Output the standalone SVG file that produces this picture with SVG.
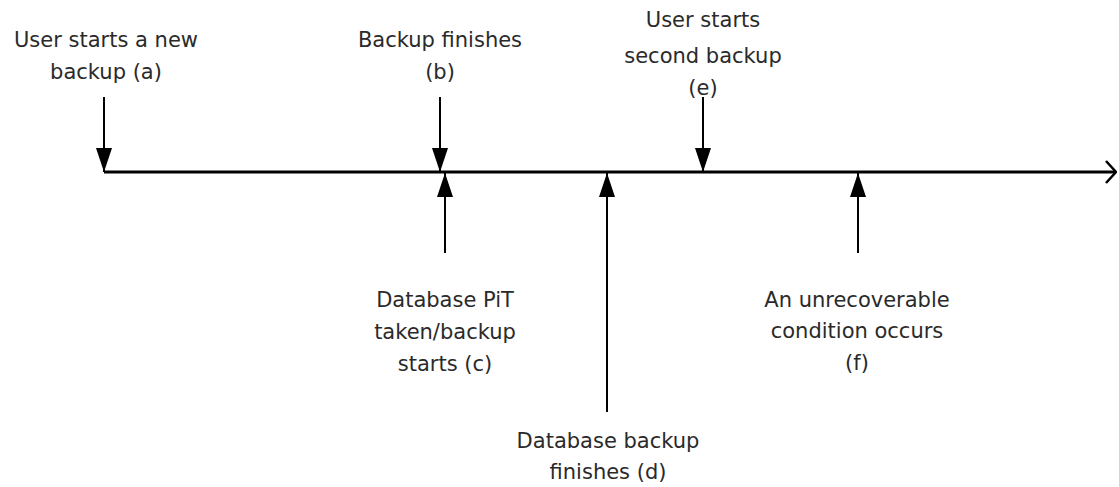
<svg xmlns="http://www.w3.org/2000/svg" width="1119" height="487" viewBox="0 0 1119 487">
<defs>
<style>
text{font-family:"DejaVu Sans","Noto Sans",sans-serif;font-size:21px;fill:#2a2a2a;text-anchor:middle}
.ln{stroke:#000;stroke-width:2;fill:none}
.ax{stroke:#000;stroke-width:3;fill:none}
</style>
<marker id="tri" viewBox="0 0 24 16" refX="24" refY="8" markerWidth="24" markerHeight="16" markerUnits="userSpaceOnUse" orient="auto">
<path d="M0,0 L24,8 L0,16 Z" fill="#000"/>
</marker>
<marker id="open" viewBox="0 0 12 24" refX="11" refY="12" markerWidth="12" markerHeight="24" markerUnits="userSpaceOnUse" orient="auto">
<path d="M1,1 L11,12 L1,23" fill="none" stroke="#000" stroke-width="2.5"/>
</marker>
</defs>
<rect width="1119" height="487" fill="#fff"/>
<g id="connectors">
<line class="ax" x1="104" y1="172" x2="1116" y2="172" marker-end="url(#open)"/>
<line class="ln" x1="104" y1="97" x2="104" y2="172" marker-end="url(#tri)"/>
<line class="ln" x1="440" y1="97" x2="440" y2="172" marker-end="url(#tri)"/>
<line class="ln" x1="703" y1="97" x2="703" y2="172" marker-end="url(#tri)"/>
<line class="ln" x1="445" y1="253" x2="445" y2="173" marker-end="url(#tri)"/>
<line class="ln" x1="607" y1="412" x2="607" y2="173" marker-end="url(#tri)"/>
<line class="ln" x1="858" y1="253" x2="858" y2="173" marker-end="url(#tri)"/>
</g>
<g id="node-a"><text x="106" y="47">User starts a new</text><text x="106" y="79">backup (a)</text></g>
<g id="node-b"><text x="440" y="47">Backup finishes</text><text x="440" y="79">(b)</text></g>
<g id="node-e"><text x="703" y="27">User starts</text><text x="703" y="63">second backup</text><text x="703" y="95">(e)</text></g>
<g id="node-c"><text x="445" y="307">Database PiT</text><text x="445" y="339">taken/backup</text><text x="445" y="371">starts (c)</text></g>
<g id="node-d"><text x="608" y="448">Database backup</text><text x="608" y="479">finishes (d)</text></g>
<g id="node-f"><text x="857" y="307">An unrecoverable</text><text x="857" y="338">condition occurs</text><text x="857" y="370">(f)</text></g>
</svg>
